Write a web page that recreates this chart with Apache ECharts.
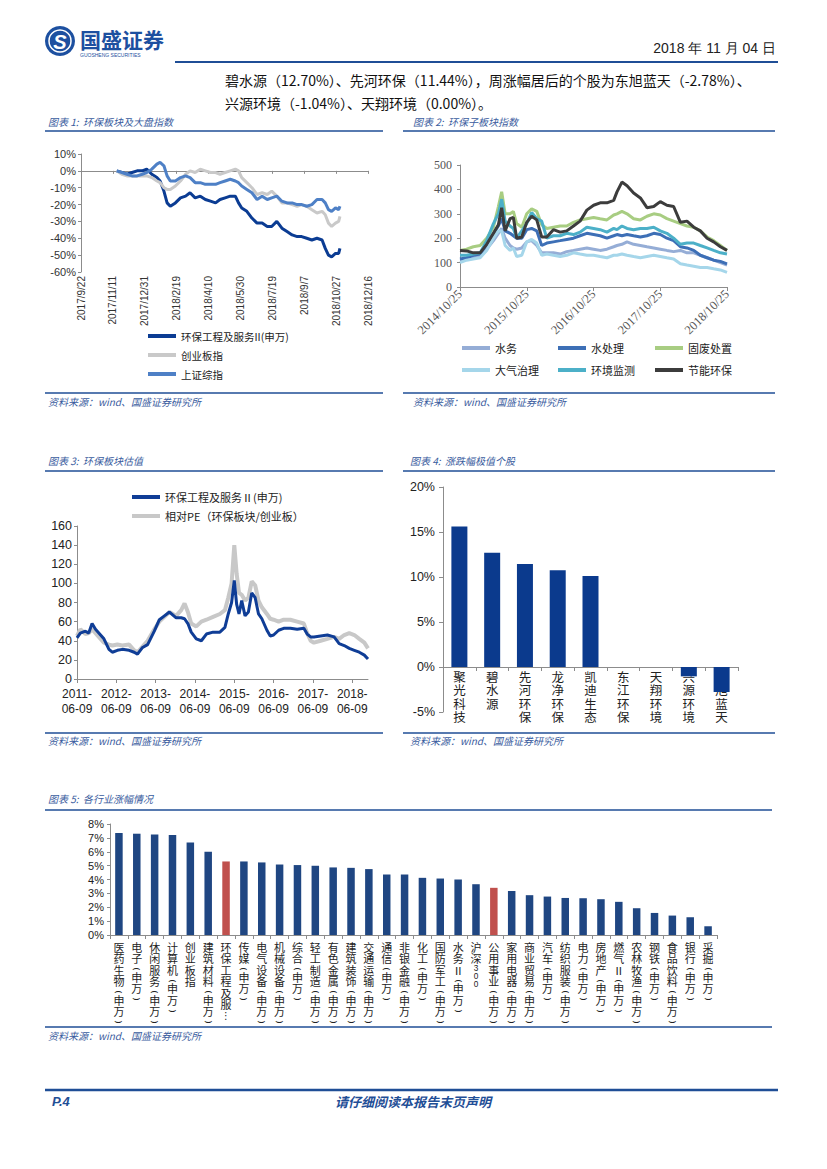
<!DOCTYPE html>
<html><head><meta charset="utf-8">
<script src="https://cdn.jsdelivr.net/npm/echarts@6/dist/echarts.min.js"></script>
<style>html,body{margin:0;padding:0;background:#fff;}#page{width:827px;height:1169px;}</style>
</head><body><div id="page"></div>
<script>
// ---------- Chart 1: 环保板块及大盘指数 ----------
const c1Names = ['环保工程及服务II(申万)', '创业板指', '上证综指'];
const c1Ticks = ['2017/9/22','2017/11/11','2017/12/31','2018/2/19','2018/4/10','2018/5/30','2018/7/19','2018/9/7','2018/10/27','2018/12/16'];
const c1Dates = ['2017-11-17','2017-11-25','2017-12-03','2017-12-11','2017-12-19','2017-12-27','2018-01-03','2018-01-11','2018-01-19','2018-01-24','2018-01-30','2018-02-04','2018-02-09','2018-02-17','2018-02-25','2018-03-05','2018-03-12','2018-03-20','2018-03-28','2018-04-05','2018-04-13','2018-04-21','2018-04-28','2018-05-06','2018-05-14','2018-05-22','2018-05-27','2018-06-01','2018-06-09','2018-06-17','2018-06-25','2018-07-03','2018-07-11','2018-07-18','2018-07-26','2018-08-03','2018-08-11','2018-08-19','2018-08-27','2018-09-03','2018-09-11','2018-09-19','2018-09-27','2018-10-05','2018-10-10','2018-10-15','2018-10-20','2018-10-26','2018-10-31','2018-11-02'];
const c1Env = [0,-1,-2,-1,0,0,1,-2,-4,-6,-12,-19,-21,-19,-16,-15,-13,-16,-15,-17,-18,-19,-17,-16,-15,-15,-19,-22,-24,-28,-31,-31,-33,-33,-30,-34,-36,-38,-39,-39,-40,-41,-40,-41,-46,-50,-51,-49,-49,-46];
const c1Gem = [0,-2,-3,-3,-3,-3,-3,-4,-6,-7,-10,-11,-11,-9,-6,-2,0,-1,1,0,-1,-1,-2,-1,0,1,0,-4,-7,-10,-14,-13,-14,-12,-15,-19,-19,-20,-21,-20,-21,-23,-25,-24,-26,-31,-33,-31,-30,-27];
const c1Sh = [0,-1,-2,-3,-3,-2,-1,1,4,5,3,-3,-6,-6,-4,-3,-4,-7,-7,-8,-8,-8,-7,-6,-5,-6,-7,-9,-11,-13,-17,-15,-17,-16,-15,-18,-19,-19,-20,-20,-21,-20,-17,-17,-19,-23,-24,-22,-23,-21];

// ---------- Chart 2: 环保子板块指数 ----------
const c2Names = ['水务','水处理','固废处置','大气治理','环境监测','节能环保'];
const c2Ticks = ['2014/10/25','2015/10/25','2016/10/25','2017/10/25','2018/10/25'];
const c2Dates = ['2014-10-25','2014-11-30','2015-01-06','2015-02-12','2015-03-20','2015-04-26','2015-05-23','2015-06-10','2015-06-29','2015-07-26','2015-08-13','2015-08-31','2015-09-28','2015-10-25','2015-11-21','2015-12-19','2016-01-15','2016-02-12','2016-03-19','2016-04-25','2016-05-31','2016-07-07','2016-08-12','2016-09-18','2016-10-25','2016-11-30','2017-01-06','2017-02-12','2017-03-02','2017-03-29','2017-04-26','2017-06-01','2017-07-08','2017-08-13','2017-09-19','2017-10-25','2017-11-30','2018-01-06','2018-02-12','2018-03-20','2018-04-26','2018-06-01','2018-07-08','2018-08-13','2018-09-19','2018-10-25'];
const c2Water = [110,115,120,125,155,190,220,240,200,170,160,155,160,185,190,170,140,140,140,135,145,150,155,160,155,150,155,165,170,175,185,175,170,165,160,155,150,145,150,140,140,130,120,110,100,90];
const c2Treat = [115,120,130,135,175,220,250,280,230,220,210,200,200,235,240,230,170,180,185,190,195,200,210,220,215,210,200,210,215,210,215,210,205,210,220,215,200,190,165,160,150,130,120,110,105,95];
const c2Waste = [150,155,165,170,200,245,330,390,300,300,310,260,245,300,320,310,255,240,245,250,250,265,275,280,285,280,275,295,300,310,300,280,275,290,300,295,280,270,260,250,245,230,205,190,170,150];
const c2Air = [100,110,115,120,150,200,230,230,170,150,160,125,130,185,195,180,130,135,130,125,130,140,135,130,130,125,120,130,130,135,130,125,120,125,130,125,120,115,95,90,85,80,80,75,70,60];
const c2Monitor = [130,130,135,140,190,260,300,360,270,250,240,200,230,260,305,280,270,200,210,210,220,215,225,245,240,235,225,240,235,250,240,235,240,240,245,230,220,200,175,180,180,170,160,150,140,135];
const c2Energy = [150,148,140,140,175,220,255,325,230,280,285,200,205,265,290,275,205,205,235,225,230,250,270,315,335,345,345,355,390,430,415,385,365,325,330,350,335,330,265,270,245,230,200,185,165,150];

// ---------- Chart 3: 环保板块估值 ----------
const c3Names = ['环保工程及服务Ⅱ(申万)', '相对PE（环保板块/创业板）'];
const c3Ticks = ['2011-\n06-09','2012-\n06-09','2013-\n06-09','2014-\n06-09','2015-\n06-09','2016-\n06-09','2017-\n06-09','2018-\n06-09'];
const c3Dates = ['2011-06-09','2011-07-10','2011-08-26','2011-09-26','2011-10-27','2011-11-28','2012-01-14','2012-02-14','2012-04-01','2012-05-02','2012-06-18','2012-08-03','2012-10-05','2012-11-21','2012-12-22','2013-02-07','2013-03-26','2013-05-27','2013-07-13','2013-08-29','2013-10-15','2013-12-16','2014-02-01','2014-03-04','2014-04-04','2014-05-05','2014-06-21','2014-08-07','2014-09-23','2014-11-24','2015-01-26','2015-03-14','2015-04-14','2015-05-15','2015-06-09','2015-07-01','2015-07-23','2015-08-17','2015-09-17','2015-10-18','2015-11-18','2015-12-20','2016-01-20','2016-02-20','2016-04-07','2016-05-08','2016-06-08','2016-07-25','2016-09-10','2016-11-11','2017-01-13','2017-03-16','2017-04-16','2017-05-18','2017-06-18','2017-08-19','2017-10-21','2017-12-22','2018-02-07','2018-03-26','2018-05-12','2018-06-28','2018-08-13','2018-09-29','2018-11-02'];
const c3Env = [43,48,50,48,58,52,46,42,31,28,30,31,30,28,26,33,36,50,62,66,70,64,64,63,58,49,42,40,47,49,49,54,68,80,103,78,68,82,66,70,90,85,68,63,51,45,46,51,53,53,52,53,47,44,44,45,46,44,37,35,32,30,28,25,21];
const c3Rel = [45,52,47,48,52,48,42,38,36,35,36,35,36,30,28,34,40,52,60,65,70,66,72,79,70,58,55,60,62,65,68,72,85,100,140,110,90,88,82,85,102,98,82,75,68,63,62,60,62,62,60,58,48,40,38,40,42,44,42,46,48,46,42,38,32];

// ---------- Chart 4: 涨跌幅极值个股 ----------
const c4Cats = ['聚光科技','碧水源','先河环保','龙净环保','凯迪生态','东江环保','天翔环境','兴源环境','东旭蓝天'];
const c4Vals = [15.6,12.70,11.44,10.74,10.11,0,0.00,-1.04,-2.78];

// ---------- Chart 5: 各行业涨幅情况 ----------
const c5Cats = ['医药生物(申万)','电子(申万)','休闲服务(申万)','计算机(申万)','创业板指','建筑材料(申万)','环保工程及服务Ⅱ(申万)','传媒(申万)','电气设备(申万)','机械设备(申万)','综合(申万)','轻工制造(申万)','有色金属(申万)','建筑装饰(申万)','交通运输(申万)','通信(申万)','非银金融(申万)','化工(申万)','国防军工(申万)','水务Ⅱ(申万)','沪深300','公用事业(申万)','家用电器(申万)','商业贸易(申万)','汽车(申万)','纺织服装(申万)','电力(申万)','房地产(申万)','燃气Ⅱ(申万)','农林牧渔(申万)','钢铁(申万)','食品饮料(申万)','银行(申万)','采掘(申万)'];
const c5Vals = [7.35,7.30,7.25,7.20,6.67,6.00,5.30,5.30,5.23,5.08,5.04,4.99,4.87,4.84,4.75,4.36,4.36,4.12,4.07,4.00,3.66,3.40,3.18,2.87,2.77,2.67,2.65,2.58,2.39,1.93,1.59,1.40,1.28,0.63];
const c5Highlight = ['环保工程及服务Ⅱ(申万)','公用事业(申万)'];

// ---------- helpers ----------
const CJK = '"Noto Sans CJK SC", sans-serif';
const SANS = '"Liberation Sans", Arial, sans-serif';
const SERIF = '"Liberation Serif", "Times New Roman", serif';
const AX = '#8c8c8c', TXT = '#333';
const BLUE = '#1f4e96', TBLUE = '#3a5c9e';
function dOff(d, base){ return (Date.parse(d) - Date.parse(base)) / 86400000; }
function pairs(dates, vals, f){ return dates.map((d,i)=>[f(d), vals[i]]); }
const f1 = d => dOff(d,'2017-09-22');
const f2 = d => dOff(d,'2014-10-25')/365.25;
const f3 = d => dOff(d,'2011-06-09')/365.25;
function trunc(s){ return s.length > 10 ? s.slice(0,6)+'…' : s; }
// vertical label from rich tokens: c = CJK char, p = rotated bracket, d = digit, e = ellipsis
function vertRich(s){
  return s.split('').map(ch=>{
    if (ch==='(' || ch==='（') return '{p|⌢}';
    if (ch===')' || ch==='）') return '{p|⌣}';
    if (ch==='…') return '{e|⋮}';
    if (/[0-9]/.test(ch)) return '{d|'+ch+'}';
    return '{c|'+ch+'}';
  }).join('\n');
}

const G = [];
function T(x,y,text,font,fill,align){ G.push({type:'text', silent:true, style:{x:x, y:y, text:text, font:font, fill:fill, textAlign:align||'left', textVerticalAlign:'middle'}}); }
function L(x1,y1,x2,y2,stroke,w){ G.push({type:'line', silent:true, shape:{x1:x1,y1:y1,x2:x2,y2:y2}, style:{stroke:stroke, lineWidth:w}}); }

// header
G.push({type:'circle', silent:true, shape:{cx:60, cy:41, r:15}, style:{fill:'#1d50a0'}});
G.push({type:'circle', silent:true, shape:{cx:60, cy:41, r:11}, style:{fill:'none', stroke:'#fff', lineWidth:1.5}});
T(60,42,'S','bold italic 20px ' + SANS,'#fff','center');
T(80,39,'国盛证券','bold 21px ' + CJK,'#1d50a0');
T(80,55,'GUOSHENG SECURITIES','5px ' + SANS,'#1d50a0');
T(776,48,'2018 年 11 月 04 日','14px ' + SANS,'#222','right');
L(175,62,778,62,BLUE,2);
T(225,80,'碧水源（12.70%）、先河环保（11.44%），周涨幅居后的个股为东旭蓝天（-2.78%）、','14px ' + CJK,'#111');
T(225,103,'兴源环境（-1.04%）、天翔环境（0.00%）。','14px ' + CJK,'#111');
// titles / sources
const TF = 'italic 10px ' + CJK;
const SRC = '资料来源：wind、国盛证券研究所';
T(48,121,'图表 1:  环保板块及大盘指数',TF,TBLUE);
T(413,121,'图表 2:  环保子板块指数',TF,TBLUE);
L(45,131,383,131,BLUE,1.5); L(403,131,775,131,BLUE,1.5);
L(45,393,383,393,BLUE,1.5); L(403,393,775,393,BLUE,1.5);
T(48,401,SRC,TF,TBLUE); T(413,401,SRC,TF,TBLUE);
T(48,460,'图表 3:  环保板块估值',TF,TBLUE);
T(410,460,'图表 4:  涨跌幅极值个股',TF,TBLUE);
L(45,471,383,471,BLUE,1.5); L(403,471,775,471,BLUE,1.5);
L(45,733,383,733,BLUE,1.5); L(403,733,775,733,BLUE,1.5);
T(48,740,SRC,TF,TBLUE); T(410,740,SRC,TF,TBLUE);
T(48,798,'图表 5:  各行业涨幅情况',TF,TBLUE);
L(45,810,772,810,BLUE,1.5);
L(45,1027,772,1027,BLUE,1.5);
T(48,1035,SRC,TF,TBLUE);
L(45,1090,778,1090,BLUE,2.5);
T(52,1101,'P.4','bold italic 13px ' + SANS,BLUE);
T(413,1101,'请仔细阅读本报告末页声明','bold italic 13px ' + CJK,BLUE,'center');

function lg(name, left, cy, fs){
  return {data:[name], left:left, top:cy-7, itemWidth:28, itemHeight:4, icon:'rect', padding:0, itemGap:0, selectedMode:false,
    textStyle:{fontSize:fs, lineHeight:14, color:'#222', fontFamily:CJK}};
}
function lineS(name, color, w, data, xi, yi){
  return {name:name, type:'line', xAxisIndex:xi, yAxisIndex:yi, data:data, showSymbol:false, symbol:'none', color:color,
    lineStyle:{color:color, width:w}, itemStyle:{color:color}, silent:true};
}
function richSet(fs, lh){
  const base = {fontSize:fs, fontFamily:CJK, color:'#222', align:'center'};
  return {
    c:Object.assign({}, base, {lineHeight:lh}),
    p:Object.assign({}, base, {fontSize:fs*1.15, fontFamily:'"DejaVu Sans", sans-serif', lineHeight:Math.round(lh*0.6)}),
    e:Object.assign({}, base, {fontSize:fs*0.9, fontFamily:'"DejaVu Sans", sans-serif', lineHeight:lh}),
    d:Object.assign({}, base, {fontSize:fs*0.75, fontFamily:SANS, lineHeight:Math.round(lh*0.7)})
  };
}
const c2Colors = ['#95add6','#3d6fb6','#a8cd82','#a5d6ea','#4cb0c8','#3c3c3c'];
const c2Series = [c2Water,c2Treat,c2Waste,c2Air,c2Monitor,c2Energy];
const c3Max = f3(c3Dates[c3Dates.length-1]);
const c3Custom = c3Ticks.map((_,i)=>i);

const option = {
  animation:false,
  backgroundColor:'#fff',
  textStyle:{fontFamily:CJK},
  graphic:{elements:G},
  legend:[
    lg(c1Names[0],148,336,10.5), lg(c1Names[1],148,355,10.5), lg(c1Names[2],148,374,10.5),
    lg(c2Names[0],462,348,11), lg(c2Names[1],558,348,11), lg(c2Names[2],655,348,11),
    lg(c2Names[3],462,370,11), lg(c2Names[4],558,370,11), lg(c2Names[5],655,370,11),
    lg(c3Names[0],132,497,11), lg(c3Names[1],132,516,11)
  ],
  grid:[
    {left:81, top:154, width:287, height:118, outerBoundsMode:'none'},
    {left:460, top:165, width:267, height:122, outerBoundsMode:'none'},
    {left:77, top:526, width:291, height:153, outerBoundsMode:'none'},
    {left:443, top:487, width:295, height:225, outerBoundsMode:'none'},
    {left:110, top:824, width:607, height:111, outerBoundsMode:'none'}
  ],
  xAxis:[
    {gridIndex:0, type:'value', min:0, max:450, interval:50, position:'bottom',
      axisLine:{show:false, onZero:false}, axisTick:{show:false}, splitLine:{show:false},
      axisLabel:{rotate:90, margin:4, fontSize:10, color:TXT, fontFamily:SANS, formatter:v=>c1Ticks[Math.round(v/50)]||''}},
    {gridIndex:0, type:'value', min:0, max:450, interval:50, position:'bottom',
      axisLine:{show:true, onZero:true, lineStyle:{color:AX}}, axisTick:{show:true, length:3, lineStyle:{color:AX}},
      axisLabel:{show:false}, splitLine:{show:false}},
    {gridIndex:1, type:'value', min:0, max:4, interval:1,
      axisLine:{show:true, lineStyle:{color:AX}}, axisTick:{show:true, length:4, lineStyle:{color:AX}}, splitLine:{show:false},
      axisLabel:{rotate:45, margin:5, fontSize:12.5, color:'#555', fontFamily:SERIF, formatter:v=>c2Ticks[Math.round(v)]||''}},
    {gridIndex:2, type:'value', min:0, max:c3Max,
      axisLine:{show:true, lineStyle:{color:AX}}, axisTick:{show:true, length:4, customValues:c3Custom, lineStyle:{color:AX}}, splitLine:{show:false},
      axisLabel:{customValues:c3Custom, margin:7, fontSize:12, lineHeight:15, color:'#222', fontFamily:SANS, formatter:v=>c3Ticks[Math.round(v)]||''}},
    {gridIndex:3, type:'category', data:c4Cats,
      axisLine:{show:true, onZero:true, lineStyle:{color:AX}}, axisTick:{show:true, length:4, lineStyle:{color:AX}}, splitLine:{show:false},
      axisLabel:{interval:0, margin:-42, formatter:v=>vertRich(v), rich:richSet(12.5,13.3)}},
    {gridIndex:4, type:'category', data:c5Cats,
      axisLine:{show:true, lineStyle:{color:AX}}, axisTick:{show:true, length:4, lineStyle:{color:AX}}, splitLine:{show:false},
      axisLabel:{interval:0, margin:6, formatter:v=>vertRich(trunc(v)), rich:richSet(11,11.5)}}
  ],
  yAxis:[
    {gridIndex:0, type:'value', min:-60, max:10, interval:10,
      axisLine:{show:true, lineStyle:{color:AX}}, axisTick:{show:true, length:3, lineStyle:{color:AX}}, splitLine:{show:false},
      axisLabel:{formatter:'{value}%', fontSize:11, color:TXT, fontFamily:SANS, margin:5}},
    {gridIndex:1, type:'value', min:0, max:500, interval:100,
      axisLine:{show:true, lineStyle:{color:AX}}, axisTick:{show:true, length:3, lineStyle:{color:AX}}, splitLine:{show:false},
      axisLabel:{fontSize:12, color:'#555', fontFamily:SERIF, margin:8}},
    {gridIndex:2, type:'value', min:0, max:160, interval:20,
      axisLine:{show:true, lineStyle:{color:AX}}, axisTick:{show:true, length:3, lineStyle:{color:AX}}, splitLine:{show:false},
      axisLabel:{fontSize:12.5, color:'#222', fontFamily:SANS, margin:5}},
    {gridIndex:3, type:'value', min:-5, max:20, interval:5,
      axisLine:{show:true, lineStyle:{color:AX}}, axisTick:{show:true, length:4, lineStyle:{color:AX}}, splitLine:{show:false},
      axisLabel:{formatter:'{value}%', fontSize:12.5, color:'#222', fontFamily:SANS, margin:8}},
    {gridIndex:4, type:'value', min:0, max:8, interval:1,
      axisLine:{show:true, lineStyle:{color:AX}}, axisTick:{show:true, length:3, lineStyle:{color:AX}}, splitLine:{show:false},
      axisLabel:{formatter:'{value}%', fontSize:11, color:'#222', fontFamily:SANS, margin:6}}
  ],
  series:[
    lineS(c1Names[0],'#0b3c93',3,pairs(c1Dates,c1Env,f1),0,0),
    lineS(c1Names[1],'#c9c9c9',3,pairs(c1Dates,c1Gem,f1),0,0),
    lineS(c1Names[2],'#4e80c6',3,pairs(c1Dates,c1Sh,f1),0,0),
    ...c2Names.map((n,i)=>lineS(n,c2Colors[i],3,pairs(c2Dates,c2Series[i],f2),2,1)),
    lineS(c3Names[1],'#c8c8c8',4,pairs(c3Dates,c3Rel,f3),3,2),
    lineS(c3Names[0],'#0f3d96',3,pairs(c3Dates,c3Env,f3),3,2),
    {name:'涨跌幅', type:'bar', xAxisIndex:4, yAxisIndex:3, data:c4Vals, barWidth:16, itemStyle:{color:'#0b3a8d'}, silent:true},
    {name:'行业涨幅', type:'bar', xAxisIndex:5, yAxisIndex:4, barWidth:7.5, silent:true,
      data:c5Vals.map((v,i)=>({value:v, itemStyle:{color: c5Highlight.indexOf(c5Cats[i])>=0 ? '#c0504d' : '#1f4682'}}))}
  ]
};
const chart = echarts.init(document.getElementById('page'), null, {renderer:'svg', width:827, height:1169});
chart.setOption(option);
</script></body></html>
